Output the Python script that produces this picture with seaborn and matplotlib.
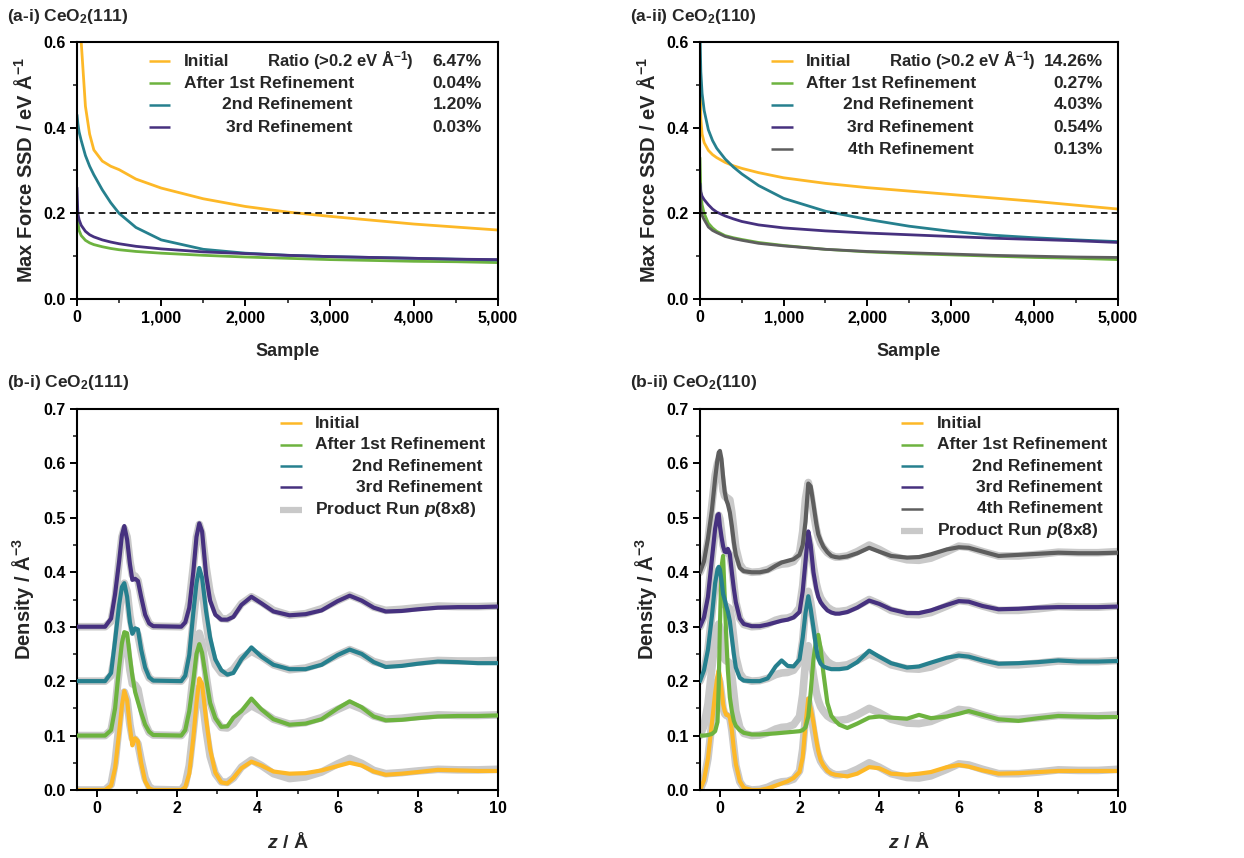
import numpy as np
import pandas as pd
import matplotlib
matplotlib.use("Agg")
import matplotlib.pyplot as plt
from matplotlib.ticker import FuncFormatter, MultipleLocator
import seaborn as sns

# ---------------- data: (a) max force SSD, sorted ----------------
SAMPLES = [0, 10, 25, 50, 100, 150, 200, 300, 400, 500, 700, 1000, 1500,
           2000, 2500, 3000, 3500, 4000, 4500, 5000]

SSD111_INITIAL = [0.95, 0.78, 0.68, 0.60, 0.45, 0.385, 0.348, 0.322, 0.31, 0.302, 0.28, 0.259,
                  0.234, 0.216, 0.203, 0.193, 0.184, 0.175, 0.168, 0.161]
SSD111_1ST = [0.21, 0.18, 0.16, 0.148, 0.137, 0.131, 0.127, 0.122, 0.118, 0.115, 0.111, 0.107,
              0.102, 0.098, 0.095, 0.092, 0.090, 0.088, 0.087, 0.085]
SSD111_2ND = [0.43, 0.41, 0.39, 0.37, 0.335, 0.31, 0.29, 0.255, 0.225, 0.200, 0.167, 0.138,
              0.116, 0.107, 0.102, 0.099, 0.097, 0.095, 0.093, 0.091]
SSD111_3RD = [0.26, 0.20, 0.185, 0.172, 0.158, 0.150, 0.145, 0.138, 0.133, 0.129, 0.123, 0.117,
              0.110, 0.106, 0.102, 0.099, 0.097, 0.095, 0.093, 0.092]

SSD110_INITIAL = [0.55, 0.42, 0.385, 0.365, 0.347, 0.337, 0.33, 0.319, 0.311, 0.305, 0.295, 0.283,
                  0.270, 0.260, 0.252, 0.244, 0.236, 0.228, 0.219, 0.210]
SSD110_1ST = [0.33, 0.25, 0.22, 0.20, 0.177, 0.166, 0.158, 0.148, 0.143, 0.139, 0.132, 0.125,
              0.116, 0.110, 0.106, 0.103, 0.100, 0.097, 0.095, 0.092]
SSD110_2ND = [0.62, 0.53, 0.48, 0.44, 0.395, 0.37, 0.352, 0.327, 0.308, 0.292, 0.265, 0.235,
              0.205, 0.186, 0.170, 0.158, 0.149, 0.143, 0.138, 0.134]
SSD110_3RD = [0.27, 0.25, 0.24, 0.232, 0.22, 0.21, 0.203, 0.194, 0.187, 0.181, 0.173, 0.166,
              0.159, 0.154, 0.150, 0.146, 0.142, 0.139, 0.136, 0.132]
SSD110_4TH = [0.26, 0.21, 0.195, 0.185, 0.168, 0.16, 0.155, 0.146, 0.141, 0.137, 0.130, 0.124,
              0.116, 0.111, 0.108, 0.105, 0.102, 0.100, 0.098, 0.097]

THRESHOLD = 0.2
RATIO_111 = ["6.47%", "0.04%", "1.20%", "0.03%"]
RATIO_110 = ["14.26%", "0.27%", "4.03%", "0.54%", "0.13%"]

LABELS = ["Initial", "After 1st Refinement", "2nd Refinement", "3rd Refinement", "4th Refinement"]
PRODUCT_LABEL = "Product Run $\\mathit{p}$(8x8)"
RATIO_HEADER = "Ratio (>0.2 eV Å$^{-1}$)"

# ---------------- data: (b) density profiles (before stacking offset) ----------------
Z111 = [-0.5, 0.2, 0.35, 0.45, 0.55, 0.62, 0.68, 0.75, 0.82, 0.88, 0.95, 1.02, 1.1, 1.2, 1.3, 1.4,
        2.1, 2.2, 2.3, 2.4, 2.48, 2.55, 2.62, 2.72, 2.82, 2.95, 3.1, 3.25, 3.4, 3.6, 3.85, 4.1,
        4.4, 4.8, 5.2, 5.6, 6.0, 6.3, 6.6, 6.9, 7.2, 7.6, 8.0, 8.5, 9.0, 9.5, 10.0]
D111_PRODUCT = [0, 0, 0.01, 0.05, 0.12, 0.165, 0.18, 0.165, 0.12, 0.095, 0.093, 0.085, 0.055, 0.022, 0.006, 0.001,
                0, 0.01, 0.045, 0.11, 0.165, 0.188, 0.17, 0.11, 0.062, 0.03, 0.015, 0.014, 0.022, 0.042, 0.055, 0.045,
                0.03, 0.021, 0.024, 0.033, 0.048, 0.058, 0.049, 0.036, 0.03, 0.032, 0.035, 0.038, 0.037, 0.037, 0.038]
D111_INITIAL = [0, 0, 0.008, 0.04, 0.105, 0.155, 0.182, 0.165, 0.115, 0.082, 0.095, 0.09, 0.05, 0.016, 0.003, 0,
                0, 0.005, 0.03, 0.095, 0.16, 0.205, 0.195, 0.13, 0.075, 0.032, 0.014, 0.012, 0.022, 0.04, 0.052, 0.045,
                0.034, 0.03, 0.031, 0.036, 0.044, 0.05, 0.045, 0.034, 0.028, 0.03, 0.033, 0.037, 0.036, 0.035, 0.035]
D111_1ST = [0, 0, 0.01, 0.05, 0.125, 0.17, 0.19, 0.188, 0.144, 0.11, 0.08, 0.062, 0.042, 0.02, 0.007, 0.001,
            0, 0.01, 0.045, 0.10, 0.15, 0.168, 0.152, 0.105, 0.06, 0.032, 0.016, 0.017, 0.033, 0.045, 0.068, 0.048,
            0.03, 0.02, 0.022, 0.03, 0.05, 0.063, 0.052, 0.035, 0.028, 0.029, 0.032, 0.035, 0.036, 0.036, 0.037]
D111_2ND = [0, 0, 0.015, 0.075, 0.14, 0.173, 0.18, 0.155, 0.108, 0.087, 0.097, 0.095, 0.058, 0.025, 0.007, 0.001,
            0, 0.01, 0.048, 0.125, 0.18, 0.208, 0.19, 0.128, 0.08, 0.04, 0.02, 0.012, 0.015, 0.04, 0.062, 0.045,
            0.03, 0.022, 0.022, 0.03, 0.048, 0.058, 0.05, 0.035, 0.026, 0.028, 0.032, 0.036, 0.035, 0.033, 0.033]
D111_3RD = [0, 0, 0.015, 0.06, 0.12, 0.168, 0.185, 0.16, 0.115, 0.086, 0.088, 0.084, 0.055, 0.022, 0.006, 0.001,
            0, 0.008, 0.035, 0.10, 0.165, 0.19, 0.175, 0.095, 0.048, 0.022, 0.013, 0.013, 0.018, 0.04, 0.055, 0.043,
            0.028, 0.021, 0.023, 0.03, 0.047, 0.057, 0.048, 0.035, 0.028, 0.029, 0.032, 0.035, 0.036, 0.036, 0.037]

Z110 = [-0.5, -0.4, -0.3, -0.2, -0.12, -0.06, -0.03, 0.0, 0.04, 0.08, 0.12, 0.16, 0.2, 0.25, 0.3, 0.35,
        0.4, 0.5, 0.6, 0.8, 1.0, 1.2, 1.4, 1.55, 1.7, 1.85, 2.0, 2.08, 2.15, 2.22, 2.28, 2.35, 2.42,
        2.47, 2.53, 2.6, 2.7, 2.8, 2.9, 3.0, 3.2, 3.45, 3.75, 4.0, 4.3, 4.7, 5.0, 5.3, 5.7, 6.0, 6.25,
        6.6, 7.0, 7.5, 8.0, 8.5, 9.0, 9.5, 10.0]
D110_PRODUCT = [0.0, 0.018, 0.058, 0.125, 0.178, 0.20, 0.205, 0.198, 0.175, 0.15, 0.14, 0.137, 0.136, 0.133, 0.11, 0.078,
                0.045, 0.015, 0.004, 0, 0.001, 0.005, 0.012, 0.015, 0.016, 0.02, 0.035, 0.075, 0.135, 0.165, 0.145, 0.11, 0.08,
                0.065, 0.053, 0.045, 0.036, 0.031, 0.028, 0.028, 0.03, 0.038, 0.05, 0.042, 0.03, 0.023, 0.022, 0.026, 0.038, 0.048, 0.046,
                0.038, 0.03, 0.03, 0.033, 0.037, 0.036, 0.036, 0.038]
D110_INITIAL = [0, 0.018, 0.058, 0.123, 0.178, 0.21, 0.22, 0.21, 0.185, 0.158, 0.145, 0.138, 0.138, 0.133, 0.11, 0.075,
                0.048, 0.016, 0.004, 0, 0, 0.003, 0.008, 0.012, 0.016, 0.022, 0.033, 0.06, 0.12, 0.168, 0.15, 0.124, 0.092,
                0.072, 0.055, 0.045, 0.035, 0.03, 0.028, 0.027, 0.025, 0.03, 0.042, 0.04, 0.03, 0.028, 0.03, 0.033, 0.042, 0.046, 0.043,
                0.036, 0.03, 0.031, 0.033, 0.035, 0.035, 0.035, 0.035]
D110_1ST = [0, 0, 0.001, 0.003, 0.008, 0.025, 0.09, 0.20, 0.31, 0.33, 0.255, 0.18, 0.12, 0.07, 0.045, 0.027,
            0.018, 0.01, 0.005, 0.002, 0.002, 0.003, 0.004, 0.005, 0.006, 0.007, 0.008, 0.01, 0.015, 0.035, 0.08, 0.14, 0.178,
            0.185, 0.16, 0.115, 0.06, 0.036, 0.027, 0.02, 0.014, 0.022, 0.033, 0.035, 0.033, 0.031, 0.038, 0.032, 0.035, 0.04, 0.045,
            0.038, 0.03, 0.027, 0.032, 0.036, 0.035, 0.034, 0.034]
D110_2ND = [0.0, 0.02, 0.058, 0.12, 0.18, 0.205, 0.21, 0.205, 0.185, 0.16, 0.15, 0.138, 0.128, 0.11, 0.08, 0.05,
            0.025, 0.006, 0.001, 0, 0, 0.005, 0.027, 0.038, 0.028, 0.027, 0.04, 0.08, 0.125, 0.156, 0.133, 0.098, 0.06,
            0.042, 0.032, 0.027, 0.024, 0.022, 0.022, 0.022, 0.024, 0.035, 0.056, 0.045, 0.033, 0.025, 0.027, 0.034, 0.043, 0.047, 0.045,
            0.038, 0.032, 0.033, 0.035, 0.038, 0.036, 0.036, 0.037]
D110_3RD = [0, 0.017, 0.055, 0.125, 0.18, 0.205, 0.207, 0.185, 0.165, 0.148, 0.138, 0.137, 0.143, 0.133, 0.10, 0.07,
            0.045, 0.015, 0.005, 0.001, 0.001, 0.004, 0.008, 0.011, 0.013, 0.017, 0.027, 0.065, 0.12, 0.175, 0.15, 0.10, 0.07,
            0.055, 0.045, 0.038, 0.03, 0.026, 0.024, 0.024, 0.027, 0.035, 0.048, 0.042, 0.032, 0.025, 0.025, 0.03, 0.04, 0.047, 0.046,
            0.038, 0.032, 0.033, 0.035, 0.036, 0.036, 0.036, 0.037]
D110_4TH = [0, 0.02, 0.062, 0.115, 0.172, 0.208, 0.22, 0.223, 0.208, 0.175, 0.148, 0.133, 0.125, 0.11, 0.085, 0.055,
            0.032, 0.008, 0.002, 0, 0, 0.003, 0.012, 0.018, 0.021, 0.024, 0.032, 0.05, 0.093, 0.163, 0.158, 0.125, 0.09,
            0.07, 0.058, 0.047, 0.037, 0.03, 0.028, 0.027, 0.029, 0.035, 0.045, 0.038, 0.03, 0.027, 0.028, 0.033, 0.042, 0.046, 0.045,
            0.038, 0.03, 0.032, 0.034, 0.036, 0.035, 0.035, 0.036]

OFFSET_STEP = 0.1  # vertical offset between stacked profiles

COLORS = ["#FDB827", "#6DB33F", "#26808E", "#46317F", "#5E5E5E"]
PRODUCT_COLOR = "#C9C9C9"

# ---------------- style ----------------
sns.set_theme(style="ticks")
plt.rcParams["font.family"] = ["Liberation Sans", "DejaVu Sans"]
plt.rcParams["font.weight"] = "bold"
plt.rcParams["axes.labelweight"] = "bold"
plt.rcParams["mathtext.fontset"] = "custom"
plt.rcParams["mathtext.rm"] = "Liberation Sans:bold"
plt.rcParams["mathtext.bf"] = "Liberation Sans:bold"
plt.rcParams["mathtext.it"] = "Liberation Sans:italic:bold"
plt.rcParams["mathtext.default"] = "bf"
plt.rcParams["lines.solid_joinstyle"] = "round"

W, H = 1244, 858
fig = plt.figure(figsize=(W / 100, H / 100), dpi=100)


def add_axes(x0, y0, x1, y1):
    return fig.add_axes([x0 / W, 1 - y1 / H, (x1 - x0) / W, (y1 - y0) / H])


ax_a1 = add_axes(77, 42, 498, 299)
ax_a2 = add_axes(700, 42, 1118, 299)
ax_b1 = add_axes(77, 409, 498, 790)
ax_b2 = add_axes(700, 409, 1118, 790)

TICK_FS = 11.5
LABEL_FS = 13
YLABEL_FS = 14.5
LEG_FS = 12.5


def style_axes(ax):
    for s in ax.spines.values():
        s.set_linewidth(1.5)
        s.set_color("black")
    ax.tick_params(which="major", direction="out", length=5, width=1.4, labelsize=TICK_FS,
                   colors="black", pad=3)
    ax.tick_params(which="minor", direction="out", length=3, width=1.2)
    for lab in ax.get_xticklabels() + ax.get_yticklabels():
        lab.set_fontweight("bold")


def legend_rows(ax, rows, hx0, hx1, tx_left, tx_right, fs=LEG_FS):
    # rows: list of (y, color, lw, label, align)
    for y, color, lw, label, align in rows:
        ax.plot([hx0, hx1], [y, y], color=color, lw=lw, transform=ax.transAxes,
                clip_on=False, solid_capstyle="butt")
        if align == "left":
            ax.text(tx_left, y, label, transform=ax.transAxes, ha="left", va="center",
                    fontsize=fs, fontweight="bold")
        else:
            ax.text(tx_right, y, label, transform=ax.transAxes, ha="right", va="center",
                    fontsize=fs, fontweight="bold")


# ---------------- (a) panels ----------------
def draw_ssd(ax, series, ratios, rows_y, ratio_x, pct_x):
    for i, vals in enumerate(series):
        df = pd.DataFrame({"Sample": SAMPLES, "SSD": vals})
        sns.lineplot(data=df, x="Sample", y="SSD", ax=ax, color=COLORS[i], lw=2.0,
                     estimator=None, sort=False)
    ax.axhline(THRESHOLD, color="black", lw=1.2, ls=(0, (4, 2.5)))
    ax.set_xlim(0, 5000)
    ax.set_ylim(0, 0.6)
    ax.xaxis.set_major_locator(MultipleLocator(1000))
    ax.xaxis.set_minor_locator(MultipleLocator(500))
    ax.yaxis.set_major_locator(MultipleLocator(0.2))
    ax.yaxis.set_minor_locator(MultipleLocator(0.1))
    ax.xaxis.set_major_formatter(FuncFormatter(lambda v, p: f"{int(v):,}"))
    ax.yaxis.set_major_formatter(FuncFormatter(lambda v, p: f"{v:.1f}"))
    ax.set_xlabel("Sample", fontsize=LABEL_FS, fontweight="bold")
    ax.set_ylabel("Max Force SSD / eV Å$^{-1}$", fontsize=YLABEL_FS, fontweight="bold")
    ax.xaxis.set_label_coords(0.5, -0.17)
    ax.yaxis.set_label_coords(-0.098, 0.5)
    style_axes(ax)
    rows = []
    for i in range(len(series)):
        rows.append((rows_y[i], COLORS[i], 1.8, LABELS[i], "left" if i < 2 else "right"))
    legend_rows(ax, rows, 0.170, 0.222, 0.254, 0.655)
    ax.text(ratio_x, rows_y[0], RATIO_HEADER, transform=ax.transAxes, ha="left",
            va="center", fontsize=LEG_FS - 0.5, fontweight="bold")
    for i, r in enumerate(ratios):
        ax.text(pct_x, rows_y[i], r, transform=ax.transAxes, ha="right", va="center",
                fontsize=LEG_FS, fontweight="bold")


ROWS_A = [0.926, 0.840, 0.755, 0.669, 0.583]
draw_ssd(ax_a1, [SSD111_INITIAL, SSD111_1ST, SSD111_2ND, SSD111_3RD], RATIO_111, ROWS_A, 0.451, 0.962)
draw_ssd(ax_a2, [SSD110_INITIAL, SSD110_1ST, SSD110_2ND, SSD110_3RD, SSD110_4TH], RATIO_110, ROWS_A,
         0.452, 0.964)


# ---------------- (b) panels ----------------
def draw_density(ax, z, product, series, rows_y):
    for i in range(len(series)):
        dfp = pd.DataFrame({"z": z, "rho": np.array(product) + OFFSET_STEP * i})
        sns.lineplot(data=dfp, x="z", y="rho", ax=ax, color=PRODUCT_COLOR, lw=5.5,
                     estimator=None, sort=False, zorder=1)
    for i, vals in enumerate(series):
        dfs = pd.DataFrame({"z": z, "rho": np.array(vals) + OFFSET_STEP * i})
        sns.lineplot(data=dfs, x="z", y="rho", ax=ax, color=COLORS[i], lw=3.0,
                     estimator=None, sort=False, zorder=2 + i)
    ax.set_xlim(-0.5, 10)
    ax.set_ylim(0, 0.7)
    ax.xaxis.set_major_locator(MultipleLocator(2))
    ax.xaxis.set_minor_locator(MultipleLocator(1))
    ax.yaxis.set_major_locator(MultipleLocator(0.1))
    ax.yaxis.set_minor_locator(MultipleLocator(0.05))
    ax.xaxis.set_major_formatter(FuncFormatter(lambda v, p: f"{int(round(v))}"))
    ax.yaxis.set_major_formatter(FuncFormatter(lambda v, p: f"{v:.1f}"))
    ax.set_xlabel("$\\mathit{z}$ / Å", fontsize=LABEL_FS + 1, fontweight="bold")
    ax.set_ylabel("Density / Å$^{-3}$", fontsize=YLABEL_FS, fontweight="bold")
    ax.xaxis.set_label_coords(0.5, -0.11)
    ax.yaxis.set_label_coords(-0.098, 0.5)
    style_axes(ax)
    rows = []
    n = len(series)
    for i in range(n):
        rows.append((rows_y[i], COLORS[i], 1.8, LABELS[i], "left" if i < 2 else "right"))
    rows.append((rows_y[n], PRODUCT_COLOR, 4.5, PRODUCT_LABEL, "left"))
    legend_rows(ax, rows, 0.482, 0.534, 0.566, 0.964)


ROWS_B = [0.963, 0.906, 0.850, 0.795, 0.738, 0.680]
draw_density(ax_b1, Z111, D111_PRODUCT, [D111_INITIAL, D111_1ST, D111_2ND, D111_3RD],
             [0.963, 0.906, 0.850, 0.795, 0.735])
draw_density(ax_b2, Z110, D110_PRODUCT, [D110_INITIAL, D110_1ST, D110_2ND, D110_3RD, D110_4TH],
             ROWS_B)

# ---------------- panel titles ----------------
TITLES = [("(a-i) CeO$_2$(111)", 7, 17), ("(a-ii) CeO$_2$(110)", 630, 17),
          ("(b-i) CeO$_2$(111)", 7, 382), ("(b-ii) CeO$_2$(110)", 630, 382)]
for txt, x, y in TITLES:
    fig.text(x / W, 1 - y / H, txt, ha="left", va="center", fontsize=12.5, fontweight="bold")

fig.savefig("out.png", dpi=100)
